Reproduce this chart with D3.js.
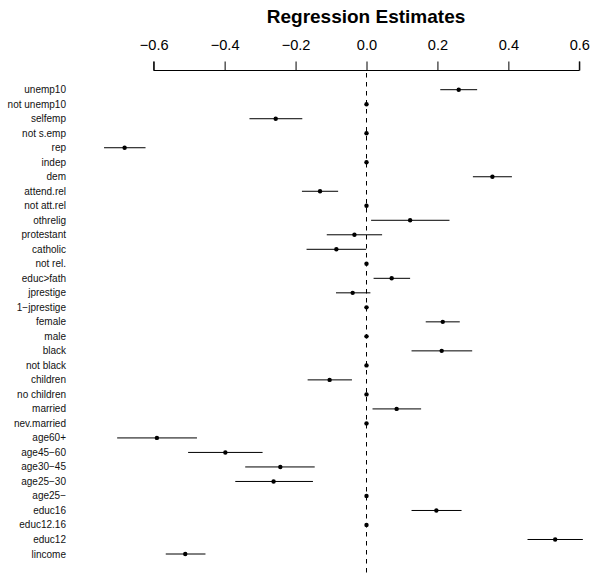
<!DOCTYPE html>
<html>
<head>
<meta charset="utf-8">
<script src="https://cdn.jsdelivr.net/npm/d3@7"></script>
<style>
  body { margin: 0; background: #fff; }
  text { font-family: "Liberation Sans", Arial, sans-serif; }
</style>
</head>
<body>
<div id="chart"></div>
<script>
const labels = ['unemp10', 'not unemp10', 'selfemp', 'not s.emp', 'rep', 'indep', 'dem',
  'attend.rel', 'not att.rel', 'othrelig', 'protestant', 'catholic', 'not rel.', 'educ>fath',
  'jprestige', '1\u2212jprestige', 'female', 'male', 'black', 'not black', 'children',
  'no children', 'married', 'nev.married', 'age60+', 'age45\u221260', 'age30\u221245',
  'age25\u221230', 'age25\u2212', 'educ16', 'educ12.16', 'educ12', 'lincome']
const estimates = [0.26, 0, -0.256, 0, -0.682, 0, 0.355, -0.131, 0, 0.123, -0.034, -0.085, 0,
  0.071, -0.039, 0, 0.215, 0, 0.212, 0, -0.104, 0, 0.085, 0, -0.591, -0.398, -0.243, -0.262,
  0, 0.197, 0, 0.532, -0.511]
const lower = [0.208, 0, -0.330, 0, -0.740, 0, 0.300, -0.182, 0, 0.013, -0.112, -0.169, 0,
  0.020, -0.086, 0, 0.167, 0, 0.127, 0, -0.166, 0, 0.017, 0, -0.703, -0.503, -0.342, -0.370,
  0, 0.127, 0, 0.454, -0.566]
const upper = [0.312, 0, -0.181, 0, -0.623, 0, 0.410, -0.080, 0, 0.234, 0.044, -0.001, 0,
  0.123, 0.011, 0, 0.263, 0, 0.298, 0, -0.041, 0, 0.154, 0, -0.478, -0.293, -0.146, -0.151,
  0, 0.268, 0, 0.610, -0.454]
const ticks = [-0.6, -0.4, -0.2, 0, 0.2, 0.4, 0.6]

const W = 592, H = 573
const svg = d3.select('#chart').append('svg')
              .attr('width', W)
              .attr('height', H)

const x = d3.scaleLinear().domain([-0.6, 0.6]).range([153.7, 579.3])
const y = d3.scalePoint().domain(labels).range([89.7, 554])

svg.append('text')
   .attr('x', 366)
   .attr('y', 23)
   .attr('text-anchor', 'middle')
   .attr('font-size', 19)
   .attr('font-weight', 'bold')
   .text('Regression Estimates')

// top axis
const axis = svg.append('g')
                .attr('transform', 'translate(0,70.5)')
                .call(d3.axisTop(x).tickValues(ticks).tickSize(9).tickPadding(12)
                        .tickFormat(d => d3.format('.1f')(d).replace('-', '\u2212')))
axis.select('.domain').attr('stroke', '#000').attr('d', `M${x(-0.6)},-9V0H${x(0.6)}V-9`)
axis.selectAll('.tick line').attr('stroke', '#000')
axis.selectAll('.tick text')
    .attr('font-size', 14.6)
    .attr('font-family', '"Liberation Sans", Arial, sans-serif')
    .attr('fill', '#000')

svg.append('line')
   .attr('x1', x(0)).attr('x2', x(0))
   .attr('y1', 73).attr('y2', H)
   .attr('stroke', '#000')
   .attr('stroke-dasharray', '4.5,4.5')

const rows = svg.append('g').selectAll('g.row')
                .data(labels)
                .enter()
                  .append('g')
                  .attr('class', 'row')

rows.append('text')
    .attr('x', 66)
    .attr('y', d => y(d))
    .attr('dy', '0.35em')
    .attr('text-anchor', 'end')
    .attr('font-size', 10)
    .attr('fill', '#111')
    .text(d => d)

rows.filter((d, i) => upper[i] !== lower[i])
    .append('line')
    .attr('x1', d => x(lower[labels.indexOf(d)]))
    .attr('x2', d => x(upper[labels.indexOf(d)]))
    .attr('y1', d => y(d))
    .attr('y2', d => y(d))
    .attr('stroke', '#000')
    .attr('stroke-width', 1)

rows.append('circle')
    .attr('cx', (d, i) => x(estimates[i]))
    .attr('cy', d => y(d))
    .attr('r', 2.2)
    .attr('fill', '#000')
</script>
</body>
</html>
